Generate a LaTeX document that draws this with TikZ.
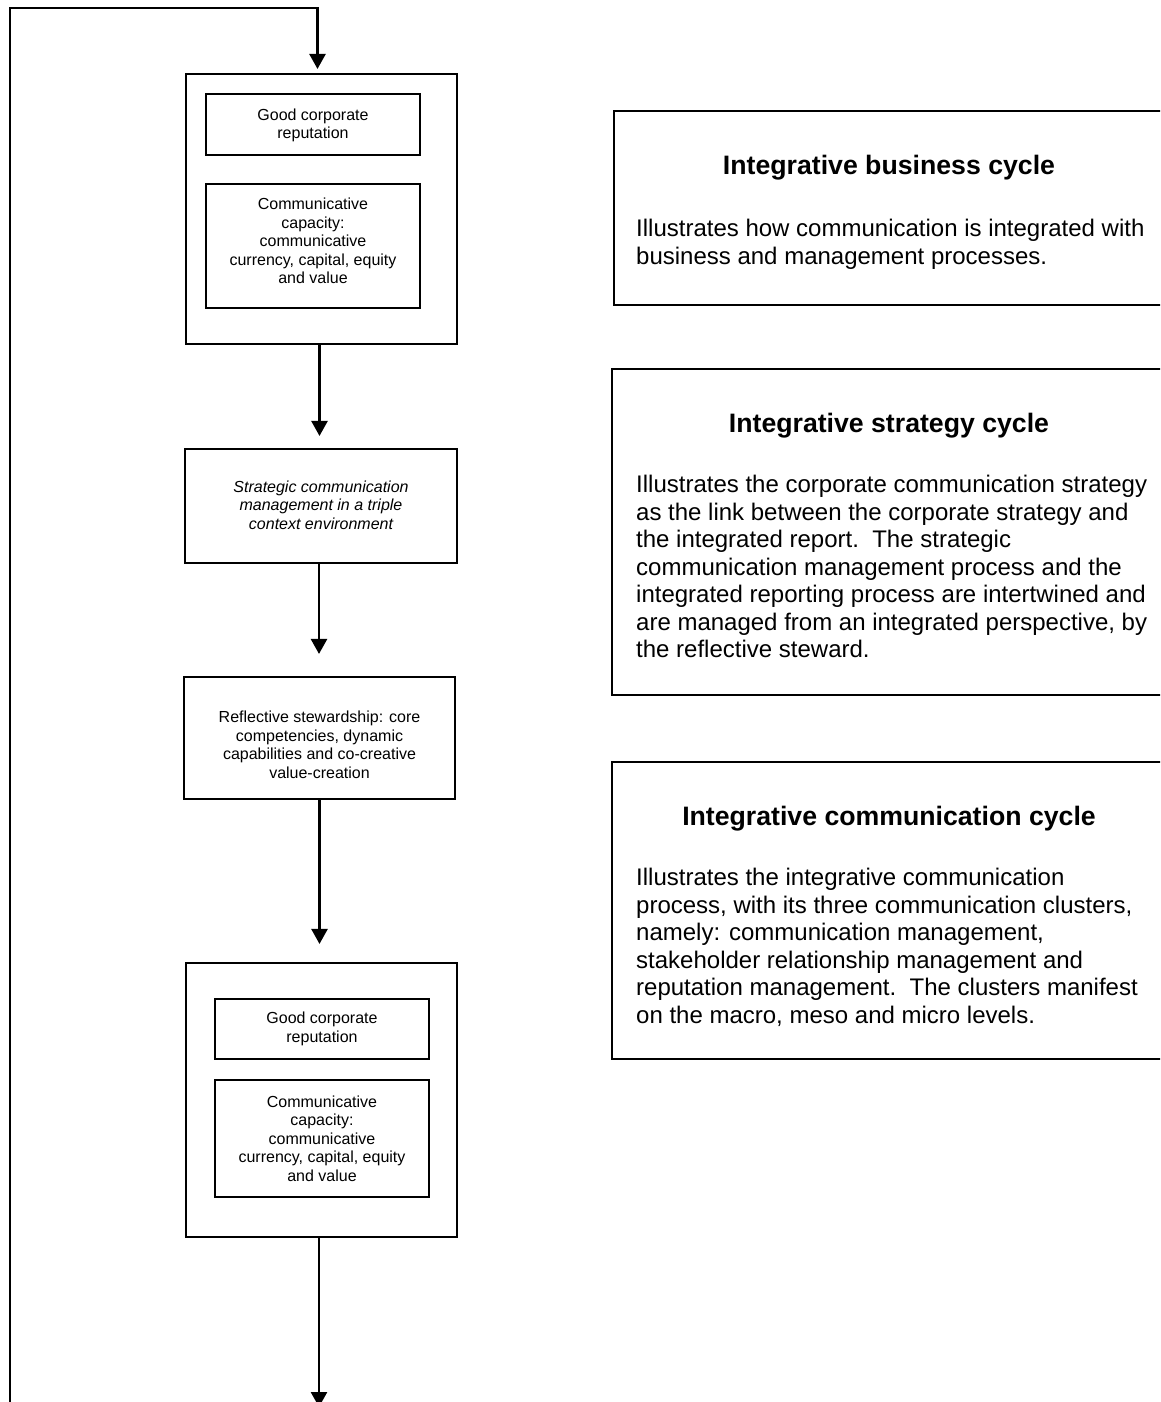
\documentclass[tikz,border=0pt]{standalone}
\usepackage{fontspec}
\setmainfont{Liberation Sans}
\usetikzlibrary{arrows.meta}
\begin{document}
\tikzset{
  frame/.style={draw, line width=2.1pt, inner sep=0pt},
  flow/.style={line width=2.5pt, -{Triangle[width=16pt,length=15pt]}},
  small/.style={font=\fontsize{16}{18.5}\selectfont, align=center, inner sep=0pt},
  body/.style={font=\fontsize{24}{27.5}\selectfont, align=left, inner sep=0pt, anchor=north west},
  ttl/.style={font=\fontsize{26.67}{30}\selectfont\bfseries, inner sep=0pt},
}
\begin{tikzpicture}[x=1pt,y=-1pt]
\useasboundingbox (0,0) rectangle (1160,1402);
\clip (0,0) rectangle (1160,1402);
\fill[white] (0,0) rectangle (1160,1402);

% left column boxes
\node[frame, minimum width=271pt, minimum height=270pt] (b1) at (321.5,209) {};
\node[frame, minimum width=214pt, minimum height=61pt] (b1a) at (313,124.5) {};
\node[frame, minimum width=214pt, minimum height=124pt] (b1b) at (313,246) {};
\node[frame, minimum width=272pt, minimum height=114pt] (b2) at (321,506) {};
\node[frame, minimum width=271pt, minimum height=122pt] (b3) at (319.5,738) {};
\node[frame, minimum width=271pt, minimum height=274pt] (b4) at (321.5,1100) {};
\node[frame, minimum width=214pt, minimum height=60pt] (b4a) at (322,1029) {};
\node[frame, minimum width=214pt, minimum height=117pt] (b4b) at (322,1138.5) {};

% texts of left boxes (yshift is in page direction: positive = up)
\node[small] (t1a) at ([yshift=-1pt]b1a.center) {Good corporate\\reputation};
\node[small] (t1b) at ([yshift=5pt]b1b.center) {Communicative\\capacity:\\communicative\\currency, capital, equity\\and value};
\node[small, font=\fontsize{16}{18.5}\selectfont\itshape] (t2) at ([yshift=1pt]b2.center) {Strategic communication\\management in a triple\\context environment};
\node[small] (t3) at ([yshift=-7pt]b3.center) {Reflective stewardship: core\\competencies, dynamic\\capabilities and co-creative\\value-creation};
\node[small] (t4a) at ([yshift=0pt]b4a.center) {Good corporate\\reputation};
\node[small] (t4b) at ([yshift=0pt]b4b.center) {Communicative\\capacity:\\communicative\\currency, capital, equity\\and value};

% right boxes
\node[frame, minimum width=550pt, minimum height=194pt] (r1) at (889,208) {};
\node[frame, minimum width=552pt, minimum height=326pt] (r2) at (888,532) {};
\node[frame, minimum width=552pt, minimum height=297pt] (r3) at (888,910.5) {};

\node[ttl] (r1t) at (889,168) {Integrative business cycle};
\node[body] (r1b) at (636,219) {Illustrates how communication is integrated with\\business and management processes.};
\node[ttl] (r2t) at (889,426) {Integrative strategy cycle};
\node[body] (r2b) at (636,475) {Illustrates the corporate communication strategy\\as the link between the corporate strategy and\\the integrated report.\ \ The strategic\\communication management process and the\\integrated reporting process are intertwined and\\are managed from an integrated perspective, by\\the reflective steward.};
\node[ttl] (r3t) at (889,819) {Integrative communication cycle};
\node[body] (r3b) at (636,868) {Illustrates the integrative communication\\process, with its three communication clusters,\\namely: communication management,\\stakeholder relationship management and\\reputation management.\ \ The clusters manifest\\on the macro, meso and micro levels.};

% connectors
\coordinate (loopstart) at (10,1412);
\coordinate (loopend) at (319,1407);
\draw[flow, shorten >=4pt] (loopstart) -- (10,8) -| ([xshift=-4pt]b1.north);
\draw[flow, shorten >=12pt] ([xshift=-2pt]b1.south) -- ([xshift=-2pt]b1.south |- b2.north);
\draw[flow, shorten >=22pt] ([xshift=-2pt]b2.south) -- ([xshift=-2pt]b2.south |- b3.north);
\draw[flow, shorten >=18pt] (b3.south) -- (b3.south |- b4.north);
\draw[flow] ([xshift=-2.5pt]b4.south) -- (loopend);
\end{tikzpicture}
\end{document}
